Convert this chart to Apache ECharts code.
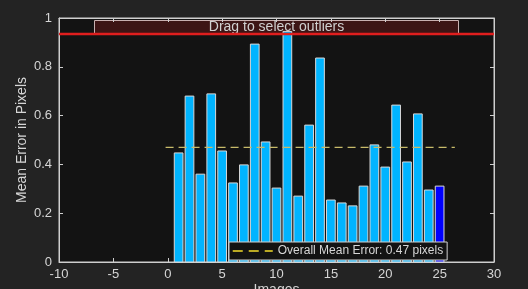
<!DOCTYPE html>
<html>
<head>
<meta charset="utf-8">
<script src="https://cdn.jsdelivr.net/npm/echarts@6/dist/echarts.min.js"></script>
<style>
html,body{margin:0;padding:0;background:#232323;}
#chart{width:528px;height:289px;}
</style>
</head>
<body>
<div id="chart"></div>
<script>
// Data
const images = [1,2,3,4,5,6,7,8,9,10,11,12,13,14,15,16,17,18,19,20,21,22,23,24,25];
const meanErrors = [0.447,0.680,0.360,0.689,0.455,0.324,0.398,0.893,0.492,0.303,0.945,0.270,0.561,0.836,0.254,0.242,0.230,0.311,0.480,0.389,0.643,0.410,0.607,0.295,0.311];
const highlighted = [25];
const overallMean = 0.47;
const meanLineX = [-0.2, 26.4];
const threshold = 0.934;
const xTicks = [-10,-5,0,5,10,15,20,25,30];
const yTicks = [0,0.2,0.4,0.6,0.8,1];
const legendLabel = 'Overall Mean Error: 0.47 pixels';

const FONT = '"Liberation Sans", Arial, Helvetica, sans-serif';
const chart = echarts.init(document.getElementById('chart'), null, {renderer:'canvas'});

const barData = images.map((img, i) => [img, meanErrors[i]]);
const axisCol = '#cfcfcf';
const labelCol = '#d6d6d6';

const option = {
  backgroundColor: '#232323',
  animation: false,
  grid: {left: 59, right: 34, top: 18, bottom: 27, containLabel: false, outerBoundsMode: 'none',
    show: true, backgroundColor: '#131313', borderColor: axisCol, borderWidth: 1},
  legend: {
    data: [legendLabel],
    left: 229, top: 242,
    backgroundColor: '#131313', borderColor: axisCol, borderWidth: 1,
    padding: [3, 4, 3, 3], itemWidth: 40, itemHeight: 12, itemGap: 4,
    itemStyle: {opacity: 0},
    lineStyle: {color: '#f2dc2a', width: 1.5, type: [10, 6]},
    textStyle: {color: labelCol, fontSize: 12, fontFamily: FONT},
    z: 20
  },
  xAxis: [{
    type: 'value', min: xTicks[0], max: xTicks[xTicks.length-1], interval: 5,
    name: 'Images', nameLocation: 'middle', nameGap: 21, nameMoveOverlap: false,
    nameTextStyle: {color: labelCol, fontSize: 14, fontFamily: FONT},
    axisLine: {show: true, onZero: false, lineStyle: {color: axisCol}},
    axisTick: {show: true, inside: true, length: 4, lineStyle: {color: axisCol}},
    axisLabel: {color: labelCol, fontSize: 13, fontFamily: FONT, margin: 6},
    splitLine: {show: false}
  },{
    type: 'value', min: xTicks[0], max: xTicks[xTicks.length-1], interval: 5, position: 'top',
    axisLine: {show: true, onZero: false, lineStyle: {color: axisCol}},
    axisTick: {show: true, inside: true, length: 4, lineStyle: {color: axisCol}},
    axisLabel: {show: false}, splitLine: {show: false}
  }],
  yAxis: [{
    type: 'value', min: yTicks[0], max: yTicks[yTicks.length-1], interval: 0.2,
    name: 'Mean Error in Pixels', nameLocation: 'middle', nameGap: 30, nameMoveOverlap: false,
    nameTextStyle: {color: labelCol, fontSize: 14, fontFamily: FONT},
    axisLine: {show: true, onZero: false, lineStyle: {color: axisCol}},
    axisTick: {show: true, inside: true, length: 4, lineStyle: {color: axisCol}},
    axisLabel: {color: labelCol, fontSize: 13, fontFamily: FONT, margin: 7,
      formatter: v => String(Math.round(v*10)/10)},
    splitLine: {show: false}
  },{
    type: 'value', min: yTicks[0], max: yTicks[yTicks.length-1], interval: 0.2, position: 'right',
    axisLine: {show: true, onZero: false, lineStyle: {color: axisCol}},
    axisTick: {show: true, inside: true, length: 4, lineStyle: {color: axisCol}},
    axisLabel: {show: false}, splitLine: {show: false}
  }],
  series: [{
    type: 'custom',
    name: 'errors',
    data: barData,
    z: 2,
    renderItem: (params, api) => {
      const x = api.value(0), y = api.value(1);
      const p0 = api.coord([x - 0.4, 0]);
      const p1 = api.coord([x + 0.4, y]);
      const hl = highlighted.indexOf(x) >= 0;
      return {
        type: 'rect',
        shape: {x: p0[0], y: p1[1], width: p1[0] - p0[0], height: p0[1] - p1[1]},
        style: {fill: hl ? '#0000ff' : '#00b4ff', stroke: '#d8d8d8', lineWidth: 1}
      };
    }
  },{
    type: 'line',
    name: legendLabel,
    data: [[meanLineX[0], overallMean],[meanLineX[1], overallMean]],
    symbol: 'none',
    lineStyle: {color: '#c8bb6a', width: 1.3, type: [8, 5]},
    itemStyle: {color: '#f2dc2a'},
    z: 5
  },{
    type: 'line',
    name: 'threshold',
    data: [[xTicks[0], threshold],[xTicks[xTicks.length-1], threshold]],
    symbol: 'none',
    lineStyle: {color: '#e01e1e', width: 2.5},
    z: 6
  }],
  graphic: [{
    type: 'group', z: 30,
    children: [{
      type: 'rect',
      shape: {x: 94.5, y: 20.5, width: 364, height: 13},
      style: {fill: '#3d1515', stroke: '#c9b1b1', lineWidth: 1}
    },{
      type: 'line',
      shape: {x1: 95, y1: 33.5, x2: 458, y2: 33.5},
      style: {stroke: '#e68a8a', lineWidth: 1}
    },{
      type: 'text',
      style: {text: 'Drag to select outliers', x: 276.5, y: 27, align: 'center', verticalAlign: 'middle',
        fill: '#d0d0d0', font: '14px ' + FONT}
    }]
  }]
};
chart.setOption(option);
</script>
</body>
</html>
